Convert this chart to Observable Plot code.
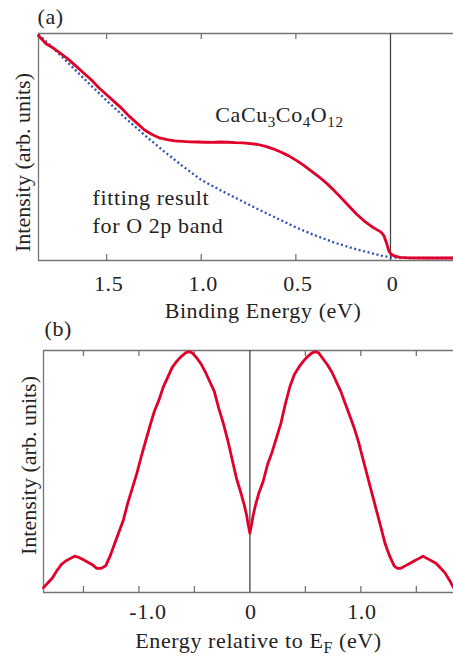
<!DOCTYPE html>
<html><head><meta charset="utf-8">
<script src="https://cdn.jsdelivr.net/npm/d3@7"></script>
<script src="https://cdn.jsdelivr.net/npm/@observablehq/plot@0.6"></script>
<style>
body{margin:0;background:#fff;}
#chart{width:453px;height:656px;position:relative;overflow:hidden;background:#fff;}
#chart svg{display:block;}
</style></head><body><div id="chart"></div>
<script>
// ---------- Panel (a): photoemission spectrum vs binding energy ----------
const energyA = [1.86,1.82,1.78,1.74,1.70,1.66,1.62,1.58,1.54,1.50,1.46,1.42,1.38,1.34,1.30,1.26,1.22,1.18,1.14,1.10,1.06,1.02,0.98,0.94,0.90,0.86,0.82,0.78,0.74,0.70,0.66,0.62,0.58,0.54,0.50,0.46,0.42,0.38,0.34,0.30,0.26,0.22,0.18,0.14,0.10,0.07,0.05,0.035,0.02,0.01,0.0,-0.02,-0.05,-0.10,-0.20,-0.333];
const intensityA = [0.99,0.955,0.935,0.91,0.885,0.855,0.825,0.795,0.76,0.73,0.70,0.67,0.635,0.605,0.575,0.555,0.54,0.532,0.527,0.525,0.523,0.522,0.521,0.520,0.522,0.521,0.519,0.518,0.515,0.511,0.503,0.492,0.478,0.462,0.442,0.42,0.395,0.37,0.342,0.31,0.275,0.24,0.205,0.175,0.15,0.135,0.125,0.11,0.075,0.045,0.03,0.02,0.014,0.012,0.011,0.011];
const energyFit = [1.86,1.80,1.70,1.60,1.50,1.40,1.30,1.20,1.10,1.00,0.90,0.80,0.70,0.60,0.50,0.40,0.30,0.20,0.10,0.05,0.0,-0.10,-0.333];
const intensityFit = [0.995,0.95,0.868,0.785,0.705,0.627,0.553,0.483,0.417,0.355,0.31,0.268,0.226,0.186,0.146,0.111,0.08,0.054,0.032,0.022,0.014,0.011,0.011];
const xDomainA = [1.86, -0.333];
const tickMarksA = [1.5, 1.0, 0.5];
const tickValuesA = [1.5, 1.0, 0.5, 0];
const tickLabelsA = ["1.5", "1.0", "0.5", "0"];

// ---------- Panel (b): symmetrized spectrum ----------
const energyB = [-1.86,-1.82,-1.78,-1.74,-1.70,-1.66,-1.62,-1.58,-1.54,-1.50,-1.46,-1.42,-1.38,-1.34,-1.30,-1.26,-1.22,-1.18,-1.14,-1.10,-1.06,-1.02,-0.98,-0.94,-0.90,-0.86,-0.82,-0.78,-0.74,-0.70,-0.66,-0.62,-0.58,-0.55,-0.52,-0.48,-0.44,-0.40,-0.36,-0.32,-0.28,-0.24,-0.20,-0.16,-0.12,-0.08,-0.05,-0.03,-0.015,0,
0.015,0.03,0.05,0.08,0.12,0.16,0.20,0.24,0.28,0.32,0.36,0.40,0.44,0.48,0.52,0.56,0.59,0.62,0.66,0.70,0.74,0.78,0.82,0.86,0.90,0.94,0.98,1.02,1.06,1.10,1.14,1.18,1.22,1.26,1.30,1.33,1.36,1.40,1.44,1.48,1.52,1.56,1.60,1.64,1.68,1.72,1.76,1.80,1.835];
const intensityB = [0.02,0.04,0.06,0.09,0.115,0.13,0.14,0.15,0.145,0.135,0.125,0.115,0.10,0.10,0.11,0.15,0.20,0.25,0.30,0.37,0.43,0.49,0.56,0.625,0.69,0.75,0.795,0.85,0.89,0.93,0.955,0.975,0.99,0.995,0.99,0.97,0.945,0.91,0.87,0.83,0.76,0.70,0.63,0.55,0.47,0.41,0.36,0.32,0.28,0.245,
0.28,0.32,0.36,0.41,0.46,0.53,0.58,0.64,0.70,0.78,0.85,0.90,0.93,0.955,0.975,0.99,0.995,0.99,0.965,0.94,0.91,0.87,0.83,0.78,0.73,0.68,0.62,0.55,0.48,0.41,0.34,0.27,0.20,0.15,0.11,0.10,0.10,0.11,0.12,0.13,0.14,0.15,0.14,0.13,0.12,0.10,0.08,0.05,0.02];
const xDomainB = [-1.86, 1.835];
const tickMarksB = [-1.5, -1.0, -0.5, 0.5, 1.0, 1.5];
const tickValuesB = [0, 1.0];
const tickLabelsB = ["0", "1.0"];
const negTickValuesB = [-1.0];
const negTickLabelsB = ["-1.0"];

const RED = "#e1002a", BLUE = "#2f50b4", FRAME = "#747474", ZERO = "#444", INK = "#222";
const FONT = "'Liberation Serif','Times New Roman',serif";
const baseStyle = {fontFamily: FONT, fontSize: "22px", overflow: "visible", background: "white", color: INK};

const dataA = energyA.map((e, i) => ({e, v: intensityA[i]}));
const fitA = energyFit.map((e, i) => ({e, v: intensityFit[i]}));
const dataB = energyB.map((e, i) => ({e, v: intensityB[i]}));

const tk = 6 / 227;
const plotA = Plot.plot({
  width: 453, height: 324, marginTop: 33, marginBottom: 64, marginLeft: 38, marginRight: 0,
  x: {domain: xDomainA, axis: null},
  y: {domain: [0, 1], axis: null},
  style: baseStyle,
  marks: [
    Plot.ruleY([0, 1], {stroke: FRAME, strokeWidth: 1.3}),
    Plot.ruleX([xDomainA[0]], {stroke: FRAME, strokeWidth: 1.3}),
    Plot.ruleX(tickMarksA, {y1: 1, y2: 1 - tk, stroke: FRAME, strokeWidth: 1.3}),
    Plot.ruleX(tickMarksA, {y1: 0, y2: tk, stroke: FRAME, strokeWidth: 1.3}),
    Plot.ruleX([0], {stroke: ZERO, strokeWidth: 1.3}),
    Plot.line(fitA, {x: "e", y: "v", stroke: BLUE, strokeWidth: 2.3, strokeDasharray: "2,2.6", strokeLinecap: "butt"}),
    Plot.line(dataA, {x: "e", y: "v", stroke: RED, strokeWidth: 2.8}),
    Plot.text(tickValuesA, {x: d => d, text: (d, i) => tickLabelsA[i], frameAnchor: "bottom", dx: 2, dy: 30, lineAnchor: "bottom", fill: INK}),
    Plot.text(["Binding Energy (eV)"], {text: d => d, frameAnchor: "bottom", dx: 17, dy: 57, lineAnchor: "bottom", fill: INK}),
    Plot.text(["Intensity (arb. units)"], {text: d => d, frameAnchor: "left", textAnchor: "middle", dx: -16, dy: 15.5, rotate: -90, lineAnchor: "middle", fill: INK}),
    Plot.text(["(a)"], {text: d => d, frameAnchor: "top-left", dx: -1, dy: -10, textAnchor: "start", lineAnchor: "bottom", fill: INK}),
    Plot.text(["CaCu3Co4O12"], {text: d => d, x: 0.926, y: 0.608, textAnchor: "start", lineAnchor: "bottom", fill: INK}),
    Plot.text(["fitting result\nfor O 2p band"], {text: d => d, x: 1.574, y: 0.123, textAnchor: "start", lineAnchor: "bottom", lineHeight: 1.27, fill: INK})
  ]
});

const tkB = 6 / 242;
const plotB = Plot.plot({
  width: 453, height: 332, marginTop: 26, marginBottom: 64, marginLeft: 43, marginRight: 0,
  x: {domain: xDomainB, axis: null},
  y: {domain: [0, 1], axis: null},
  style: baseStyle,
  marks: [
    Plot.ruleY([0, 1], {stroke: FRAME, strokeWidth: 1.3}),
    Plot.ruleX([xDomainB[0]], {stroke: FRAME, strokeWidth: 1.3}),
    Plot.ruleX(tickMarksB, {y1: 1, y2: 1 - tkB, stroke: FRAME, strokeWidth: 1.3}),
    Plot.ruleX(tickMarksB, {y1: 0, y2: tkB, stroke: FRAME, strokeWidth: 1.3}),
    Plot.ruleX([0], {stroke: ZERO, strokeWidth: 1.3}),
    Plot.line(dataB, {x: "e", y: "v", stroke: RED, strokeWidth: 2.8}),
    Plot.text(tickValuesB, {x: d => d, text: (d, i) => tickLabelsB[i], frameAnchor: "bottom", dx: 1, dy: 26, lineAnchor: "bottom", fill: INK}),
    Plot.text(negTickValuesB, {x: d => d, text: (d, i) => negTickLabelsB[i], frameAnchor: "bottom", dx: 9, dy: 26, lineAnchor: "bottom", fill: INK}),
    Plot.text(["Energy relative to EF (eV)"], {text: d => d, frameAnchor: "bottom", dx: 10, dy: 55, lineAnchor: "bottom", fill: INK}),
    Plot.text(["Intensity (arb. units)"], {text: d => d, frameAnchor: "left", textAnchor: "middle", dx: -15, dy: -6, rotate: -90, lineAnchor: "middle", fill: INK}),
    Plot.text(["(b)"], {text: d => d, frameAnchor: "top-left", dx: 1, dy: -15, textAnchor: "start", lineAnchor: "bottom", fill: INK})
  ]
});

const chart = document.getElementById("chart");
chart.appendChild(plotA);
chart.appendChild(plotB);

// rich text (subscripts)
function richText(plain, parts, shift, subSize) {
  d3.selectAll("#chart text").filter(function () { return this.textContent === plain; }).each(function () {
    const t = d3.select(this);
    t.text(null);
    let down = false;
    parts.forEach(([s, isSub]) => {
      const ts = t.append("tspan").text(s);
      if (isSub && !down) { ts.attr("dy", shift); down = true; }
      else if (!isSub && down) { ts.attr("dy", -shift); down = false; }
      if (isSub) ts.attr("font-size", subSize);
    });
  });
}
richText("CaCu3Co4O12", [["CaCu", false], ["3", true], ["Co", false], ["4", true], ["O", false], ["12", true]], 5, 15);
richText("Energy relative to EF (eV)", [["Energy relative to E", false], ["F", true], [" (eV)", false]], 5, 16);

// slight horizontal tracking on horizontal texts
d3.selectAll("#chart text").each(function () {
  const tr = this.getAttribute("transform") || "";
  const rotated = /rotate/.test(tr) || /rotate/.test(this.parentNode.getAttribute("transform") || "");
  this.setAttribute("letter-spacing", rotated ? "0" : "0.6");
});
</script></body></html>
